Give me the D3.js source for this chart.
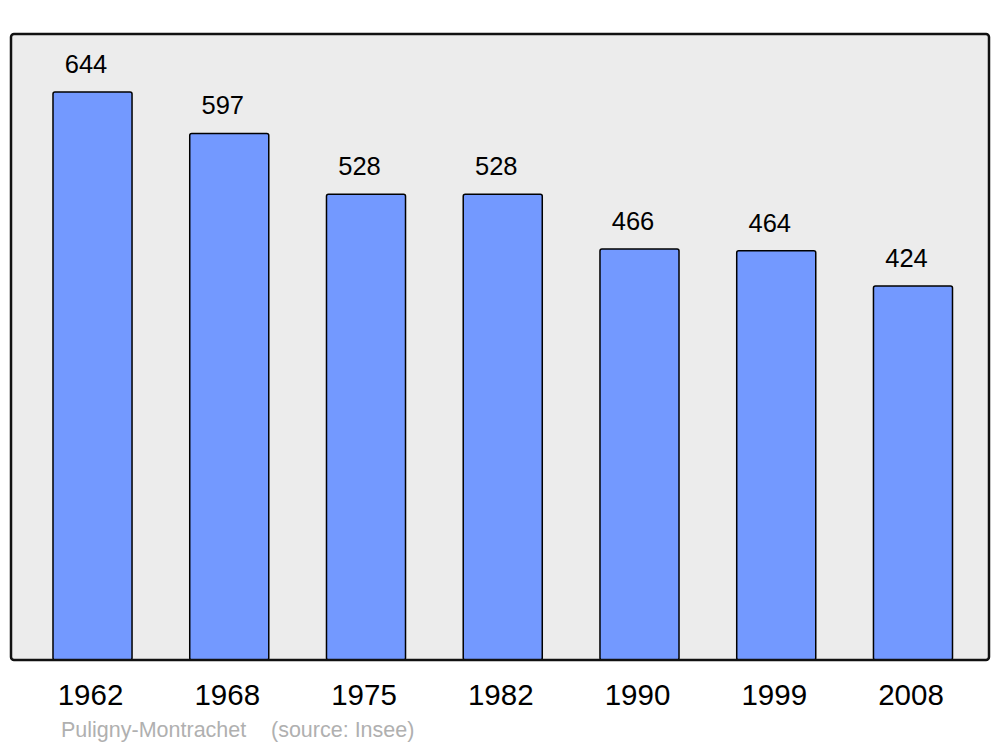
<!DOCTYPE html>
<html><head><meta charset="utf-8">
<script src="https://cdn.jsdelivr.net/npm/d3@7"></script>
<style>body{margin:0;background:#fff}svg{display:block}</style>
</head><body>
<script>
const years = ["1962","1968","1975","1982","1990","1999","2008"];
const population = [644,597,528,528,466,464,424];
const commune = "Puligny-Montrachet";
const sourceNote = "(source: Insee)";

const W = 1000, H = 747;
const frame = {left: 11, top: 34, right: 989, bottom: 660};
const svg = d3.select("body").append("svg").attr("width", W).attr("height", H);

svg.append("rect").attr("x", frame.left).attr("y", frame.top)
  .attr("width", frame.right - frame.left).attr("height", frame.bottom - frame.top)
  .attr("rx", 3).attr("fill", "#ececec").attr("stroke", "none");

const x = d3.scaleBand().domain(years).range([frame.left, frame.right])
  .paddingInner(0.422).paddingOuter(0.287).align(0.535);
const y = d3.scaleLinear().domain([0, 709.7]).range([frame.bottom, frame.top]);

const data = years.map((yr, i) => ({yr, v: population[i]}));

svg.selectAll("rect.bar").data(data).enter().append("rect").attr("class", "bar")
  .attr("x", d => x(d.yr)).attr("y", d => y(d.v))
  .attr("width", x.bandwidth()).attr("height", d => y(0) - y(d.v))
  .attr("rx", 2).attr("fill", "#7399ff").attr("stroke", "#000").attr("stroke-width", 1.5);

svg.selectAll("text.val").data(data).enter().append("text").attr("class", "val")
  .attr("x", d => x(d.yr) + x.bandwidth() / 2 - 6.5).attr("y", d => y(d.v) - 19)
  .attr("text-anchor", "middle").attr("font-family", "Liberation Sans, Arial, sans-serif")
  .attr("font-size", 25.5).attr("fill", "#000").text(d => d.v);

svg.append("rect").attr("x", frame.left).attr("y", frame.top)
  .attr("width", frame.right - frame.left).attr("height", frame.bottom - frame.top)
  .attr("rx", 3).attr("fill", "none").attr("stroke", "#111").attr("stroke-width", 2.5);

const xAxis = svg.append("g").attr("transform", `translate(0,${frame.bottom})`)
  .call(d3.axisBottom(x).tickSize(0).tickPadding(0));
xAxis.select(".domain").remove();
xAxis.selectAll("text").attr("y", 45).attr("dy", 0).attr("dx", -2)
  .attr("font-family", "Liberation Sans, Arial, sans-serif").attr("font-size", 29.5).attr("fill", "#000");

svg.append("text").attr("x", 61).attr("y", 737)
  .attr("font-family", "Liberation Sans, Arial, sans-serif").attr("font-size", 21.5).attr("fill", "#b0b0b0")
  .text(commune);
svg.append("text").attr("x", 271).attr("y", 737)
  .attr("font-family", "Liberation Sans, Arial, sans-serif").attr("font-size", 21.5).attr("fill", "#b0b0b0")
  .text(sourceNote);
</script>
</body></html>
